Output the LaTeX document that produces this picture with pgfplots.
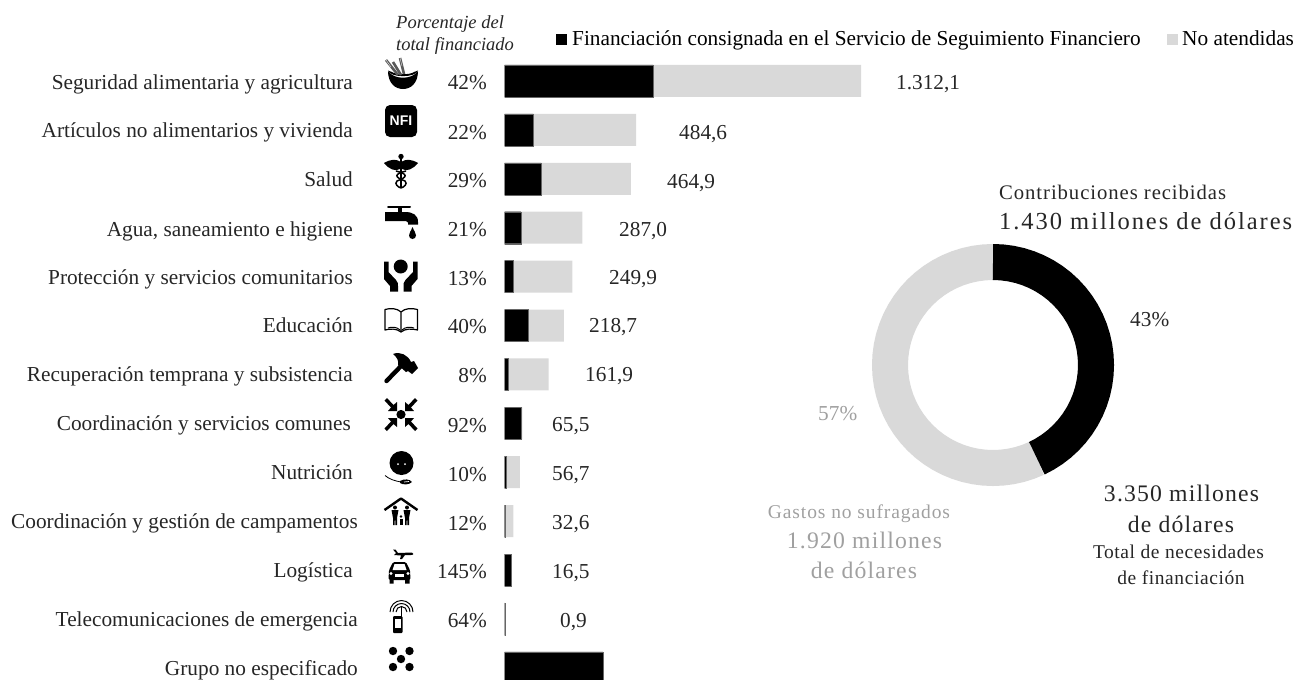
\documentclass[border=0pt]{standalone}
\usepackage{pgfplots}
\pgfplotsset{compat=1.18}
\usepackage{pgfplotstable}
\usepackage{fontspec}
\setmainfont{Liberation Serif}
\newfontfamily\arialf{Liberation Sans}
\definecolor{nogrey}{HTML}{D9D9D9}
\definecolor{txt}{HTML}{262626}
\definecolor{gtxt}{HTML}{A0A0A0}
\pgfplotstableread{
y funded unmet
0 547.0 765.1
1 106.6 378.0
2 134.8 330.1
3 60.3 226.7
4 32.5 217.4
5 87.5 131.2
6 13.0 148.9
7 60.3 5.2
8 5.7 51.0
9 3.9 28.7
10 23.9 0
11 0.6 0.3
12 362.0 0
}\sectors
\newcommand{\mainf}{\fontsize{21.3}{25}\selectfont}
\newcommand{\lab}[3]{\node[anchor=base east,inner sep=0pt,text=txt,font=\mainf] at (#1,#2) {#3};}
\newcommand{\pct}[2]{\node[anchor=base east,inner sep=0pt,text=txt,font=\mainf] at (487,#1) {#2};}
\newcommand{\val}[3]{\node[anchor=base west,inner sep=0pt,text=txt,font=\mainf] at (#1,#2) {#3};}
\newcommand{\txtc}[6]{\node[anchor=base,inner sep=0pt,text=#1,font={\fontsize{#2}{#2}\selectfont\addfontfeature{LetterSpace=#3}}] at (#4,#5) {#6};}
\begin{document}
\begin{tikzpicture}[x=1pt,y=-1pt]
\path (0,0) rectangle (1308,679);
% bars
\begin{axis}[at={(504.5pt,-679pt)},anchor=south west,scale only axis,
  width=803.5pt,height=679pt,hide axis,
  xmin=0,xmax=2957,ymin=-1.656,ymax=12.229,y dir=reverse,
  xbar stacked,bar width=32pt]
\addplot[fill=black,draw=black!60,line width=0.3pt] table[x=funded,y=y]{\sectors};
\addplot[fill=nogrey,draw=none] table[x=unmet,y=y]{\sectors};
\end{axis}
% donut
\begin{axis}[at={(993pt,-365pt)},anchor=center,scale only axis,
  width=260pt,height=260pt,hide axis,xmin=-130,xmax=130,ymin=-130,ymax=130,clip=false]
\addplot[draw=nogrey,line width=36pt,data cs=polar,line cap=butt,no marks] coordinates {
(-64.8,103)(-70,103)(-75,103)(-80,103)(-85,103)(-90,103)(-95,103)(-100,103)(-105,103)(-110,103)(-115,103)(-120,103)(-125,103)(-130,103)(-135,103)(-140,103)(-145,103)(-150,103)(-155,103)(-160,103)(-165,103)(-170,103)(-175,103)(-180,103)(-185,103)(-190,103)(-195,103)(-200,103)(-205,103)(-210,103)(-215,103)(-220,103)(-225,103)(-230,103)(-235,103)(-240,103)(-245,103)(-250,103)(-255,103)(-260,103)(-265,103)(-269.7,103)(-270,103)};
\addplot[draw=black,line width=36pt,data cs=polar,line cap=butt,no marks] coordinates {
(90,103)(89.7,103)(85,103)(80,103)(75,103)(70,103)(65,103)(60,103)(55,103)(50,103)(45,103)(40,103)(35,103)(30,103)(25,103)(20,103)(15,103)(10,103)(5,103)(0,103)(-5,103)(-10,103)(-15,103)(-20,103)(-25,103)(-30,103)(-35,103)(-40,103)(-45,103)(-50,103)(-55,103)(-60,103)(-64.5,103)(-64.8,103)};
\end{axis}
% category labels
\lab{353}{89}{Seguridad alimentaria y agricultura}
\lab{353}{137.5}{Artículos no alimentarios y vivienda}
\lab{353}{186.5}{Salud}
\lab{353}{236}{Agua, saneamiento e higiene}
\lab{353}{284}{Protección y servicios comunitarios}
\lab{353}{332.5}{Educación}
\lab{353}{381.5}{Recuperación temprana y subsistencia}
\lab{351}{430.5}{Coordinación y servicios comunes}
\lab{353}{479.5}{Nutrición}
\lab{358}{528.5}{Coordinación y gestión de campamentos}
\lab{353}{577}{Logística}
\lab{358}{626.5}{Telecomunicaciones de emergencia}
\lab{358}{675}{Grupo no especificado}
% percentages
\pct{89.5}{42\%}\pct{139}{22\%}\pct{187}{29\%}\pct{236.5}{21\%}\pct{285.5}{13\%}\pct{333.5}{40\%}
\pct{382.5}{8\%}\pct{432}{92\%}\pct{481.5}{10\%}\pct{530}{12\%}\pct{578.5}{145\%}\pct{627.5}{64\%}
% values
\val{896}{89.5}{1.312,1}\val{679}{139}{484,6}\val{667}{188}{464,9}\val{619}{236}{287,0}
\val{609}{284}{249,9}\val{589}{332.5}{218,7}\val{585}{381.5}{161,9}\val{552}{431}{65,5}
\val{552}{480}{56,7}\val{552}{529}{32,6}\val{552}{578}{16,5}\val{560}{627}{0,9}
% header + legend
\node[anchor=base west,inner sep=0pt,text=txt,font=\fontsize{18.5}{22}\selectfont\itshape] at (396,28) {Porcentaje del};
\node[anchor=base west,inner sep=0pt,text=txt,font=\fontsize{18.5}{22}\selectfont\itshape] at (396,50) {total financiado};
\fill[black] (556,34) rectangle (567,45);
\node[anchor=base west,inner sep=0pt,text=black,font=\mainf] at (572,45.5) {Financiación consignada en el Servicio de Seguimiento Financiero};
\fill[nogrey] (1167,34) rectangle (1178,45);
\node[anchor=base west,inner sep=0pt,text=black,font=\mainf] at (1182,45.5) {No atendidas};
% donut labels
\node[anchor=base west,inner sep=0pt,text=txt,font={\fontsize{20.7}{24}\selectfont\addfontfeature{LetterSpace=4.5}}] at (999,199.5) {Contribuciones recibidas};
\node[anchor=base west,inner sep=0pt,text=txt,font={\fontsize{24.5}{28}\selectfont\addfontfeature{LetterSpace=8}}] at (999,229.5) {1.430 millones de dólares};
\node[anchor=base west,inner sep=0pt,text=txt,font=\mainf] at (1130,326) {43\%};
\node[anchor=base west,inner sep=0pt,text=gtxt,font=\mainf] at (818,420) {57\%};
\txtc{gtxt}{19.5}{4.6}{859}{518}{Gastos no sufragados}
\txtc{gtxt}{23.7}{5}{864.5}{548}{1.920 millones}
\txtc{gtxt}{23.7}{5}{864}{578}{de dólares}
\txtc{txt}{23.7}{5}{1181.5}{501.5}{3.350 millones}
\txtc{txt}{23.7}{5}{1181}{532.5}{de dólares}
\txtc{txt}{19.5}{3}{1178.5}{558}{Total de necesidades}
\txtc{txt}{19.5}{3}{1181}{584}{de financiación}
% ---- icons
% bowl + wheat
\fill (388,71) .. controls (388,83) and (395,89) .. (403,89) .. controls (411,89) and (418,83) .. (418,71) .. controls (412,80) and (394,80) .. (388,71) -- cycle;
\fill (392,72) .. controls (396,75) and (410,75) .. (414,72) -- (418,70.5) .. controls (416,78) and (390,78) .. (388,70.5) -- cycle;
\foreach \a/\b/\c/\d in {386/60/398/75,400/58/404/74,393/62/401/75}{\draw[black!65,line width=2.6pt] (\a,\b) -- (\c,\d);}
\foreach \a/\b/\c/\d in {386/60/391/67,400/58/402/66}{\draw[white,line width=.3pt] (\a,\b) -- (\c,\d);}
% NFI
\fill[rounded corners=5pt] (385,105) rectangle (417,137);
\node[text=white,inner sep=0pt,font=\arialf\bfseries\fontsize{14}{14}\selectfont] at (401,121) {NFI};
% caduceus
\draw[line width=1.8pt] (401,155) -- (401,188);
\fill (401,156.5) circle (2.7);
\fill (384,163) .. controls (391,159) and (396,159) .. (400,161.5) -- (402,161.5) .. controls (406,159) and (411,159) .. (418,163) .. controls (413,169) and (407,172) .. (402,169) -- (400,169) .. controls (395,172) and (389,169) .. (384,163) -- cycle;
\draw[line width=1.5pt] (396,171) .. controls (408,174) and (408,177) .. (397,181) .. controls (394,184) and (398,187) .. (401,188);
\draw[line width=1.5pt] (406,171) .. controls (394,174) and (394,177) .. (405,181) .. controls (408,184) and (404,187) .. (401,188);
% faucet
\draw[line width=2pt,line cap=round] (388,207) -- (410,207);
\draw[line width=3.5pt] (400,207) -- (400,213);
\fill (385,212) -- (405,212) .. controls (413,212) and (418,215) .. (418,222) -- (418,224.5) -- (408,224.5) -- (408,222.5) .. controls (408,221) and (405,221) .. (403,221) -- (385,221) -- cycle;
\fill (412.5,227) .. controls (414,231) and (416,233) .. (416,235.5) arc (0:180:3.5) .. controls (409,233) and (411,231) .. (412.5,227) -- cycle;
% hands
\fill (400.7,266.5) circle (7);
\fill (384,261.5) -- (388.5,261.5) -- (388.5,272) -- (396,280) .. controls (398,282) and (398,284) .. (398,286) -- (398,291.5) -- (390,291.5) -- (390,286) -- (384,279) -- cycle;
\fill (417.5,261.5) -- (413,261.5) -- (413,272) -- (405.5,280) .. controls (403.5,282) and (403.5,284) .. (403.5,286) -- (403.5,291.5) -- (411.5,291.5) -- (411.5,286) -- (417.5,279) -- cycle;
% book
\draw[line width=1.2pt,line join=round] (401,312) .. controls (397,308) and (390,308) .. (385,309.5) -- (385,330) .. controls (390,328.5) and (397,328.5) .. (401,332) .. controls (405,328.5) and (412,328.5) .. (417.5,330) -- (417.5,309.5) .. controls (412,308) and (405,308) .. (401,312) -- cycle (401,312) -- (401,332);
\draw[line width=1pt] (388,328) .. controls (392,326.5) and (397,327) .. (400,330);
\draw[line width=1pt] (414,328) .. controls (410,326.5) and (405,327) .. (402,330);
% hammer
\draw[line width=4.4pt,line cap=round] (386.5,381) -- (402,365);
\fill (393,354) .. controls (400,351) and (408,355) .. (411,362) -- (414,361) -- (418,368) -- (412,374) -- (408,371) -- (406,372) -- (398,365) .. controls (399,361) and (397,357) .. (393,354) -- cycle;
% arrows
\fill (401,414.5) circle (4.6);
\foreach \sx/\sy in {1/1,-1/1,1/-1,-1/-1}{
 \begin{scope}[shift={(401,414.5)},xscale=\sx,yscale=\sy]
 \fill (4,3.5) -- (4,12.5) -- (7.5,9.5) -- (14,16.5) -- (16.5,14) -- (10,7) -- (13,3.5) -- cycle;
 \end{scope}}
% face + spoon
\fill (401.5,463) circle (12);
\fill[white] (398,464) circle (1) (405,464) circle (1);
\draw[line width=.8pt] (385,475.5) .. controls (389,479) and (395,481) .. (401,482);
\fill (400,481) .. controls (404,478.5) and (410,479) .. (412,482) .. controls (409,485) and (403,485) .. (400,483) -- cycle;
\draw[white,line width=.7pt] (404,482) -- (409,481.5);
% house + family
\draw[line width=2.4pt,line join=round] (384.5,510) -- (401,498.5) -- (417.5,510);
\foreach \px in {395,407}{
 \fill (\px,507.5) circle (2);
 \fill (\px-3.5,510) -- (\px+3.5,510) -- (\px+2,518) -- (\px+2,525) -- (\px+.4,525) -- (\px+.2,519) -- (\px-.2,519) -- (\px-.4,525) -- (\px-2,525) -- (\px-2,518) -- cycle;}
\fill (401,516.5) circle (1.4);
\fill (399.5,518.5) rectangle (402.5,525);
% plane + car
\fill (393,549.5) -- (395.5,549.5) -- (398,553) -- (412,552.5) .. controls (414,553) and (414,555) .. (411,555) -- (405,555) -- (402,559) -- (400,559) -- (401,555.5) -- (394,555) -- (396,553) -- cycle;
\fill[rounded corners=1.5pt] (393,562) -- (406,562) -- (410,570) -- (410.5,580) -- (388.5,580) -- (389,570) -- cycle;
\fill (389.5,579) rectangle (393.5,583.5) (405,579) rectangle (409.5,583.5);
\fill[white] (394.5,564) -- (404.5,564) -- (406.5,570) -- (392.5,570) -- cycle;
\fill[white] (391,573.5) circle (1.6) (408,573.5) circle (1.6);
\fill[white] (395,574) rectangle (404,577);
% phone
\draw[line width=1pt] (401.5,606) -- (401.5,618);
\fill[rounded corners=1pt] (393,616) rectangle (402.5,633);
\fill[white] (394.8,619) rectangle (400.7,628);
\draw[line width=1pt] (390,612) arc (180:360:11.5);
\draw[line width=1pt] (393,612) arc (180:360:8.5);
\draw[line width=1pt] (396,612) arc (180:360:5.5);
% dots
\foreach \px/\py in {393/651,409.5/651,401/659,393/667,409.5/667}{\fill (\px,\py) circle (4.2);}
\end{tikzpicture}
\end{document}
